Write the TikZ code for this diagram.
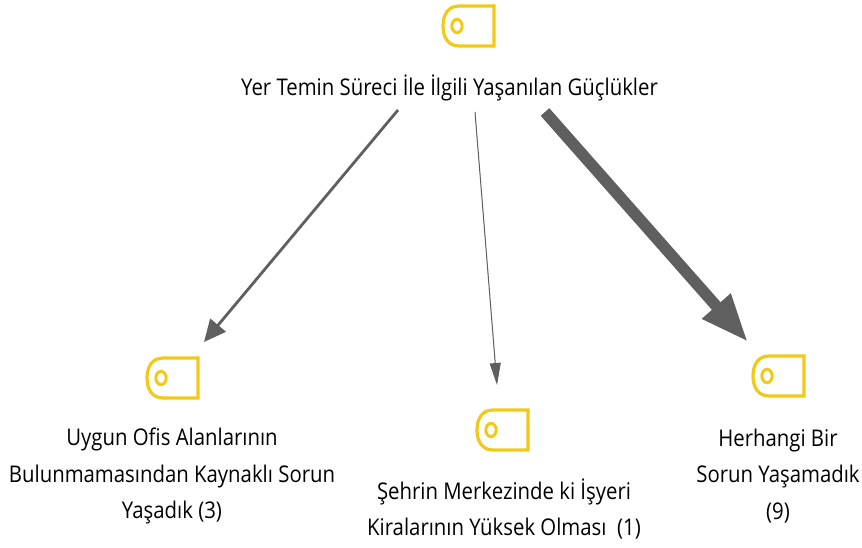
\documentclass[tikz,border=0pt]{standalone}
\usepackage{fontspec}
\setmainfont[FakeStretch=0.885]{Open Sans}
\usetikzlibrary{arrows.meta}
\definecolor{iconyellow}{HTML}{F0C919}
\definecolor{arrowgrey}{HTML}{5F5F5F}
\tikzset{
  x=1pt,y=-1pt,
  lbl/.style={align=center,font=\fontsize{23}{36.7}\selectfont,text=black,inner sep=0pt},
  conn/.style={draw=arrowgrey,fill=arrowgrey},
  pics/docicon/.style={code={
    \draw[iconyellow,line width=3.2pt,line join=miter]
      (26,-20) -- (-9,-20) .. controls (-20,-20) and (-25,-11) .. (-25,0)
      .. controls (-25,11) and (-20,20) .. (-9,20) -- (26,20) -- cycle;
    \draw[iconyellow,line width=3pt] (-11,0) ellipse [x radius=5.2,y radius=6.6];
  }}
}
\begin{document}
\begin{tikzpicture}
\useasboundingbox (0,0) rectangle (862,548);
\pic at (468,26) {docicon};
\pic at (172,378) {docicon};
\pic at (502,430) {docicon};
\pic at (778,376) {docicon};
\node[lbl] (root) at (449.5,87.5) {Yer Temin Süreci İle İlgili Yaşanılan Güçlükler};
\node[lbl] (left) at (172,476) {Uygun Ofis Alanlarının\\Bulunmamasından Kaynaklı Sorun\\Yaşadık (3)};
\node[lbl] (mid) at (504,509) {Şehrin Merkezinde ki İşyeri\\Kiralarının Yüksek Olması~~(1)};
\node[lbl] (right) at (778,476) {Herhangi Bir\\Sorun Yaşamadık\\(9)};
\coordinate (ls) at (398,110);
\coordinate (le) at (204,342);
\coordinate (ms) at (475,112);
\coordinate (me) at (497,385);
\coordinate (rs) at (545,112);
\coordinate (re) at (748,342);
\draw[conn,line width=2.8pt,-{Triangle[length=22pt,width=20pt]}] (ls) -- (le);
\draw[conn,line width=1pt,-{Triangle[length=22pt,width=11pt]}] (ms) -- (me);
\draw[conn,line width=11.5pt,-{Triangle[length=48pt,width=35pt]}] (rs) -- (re);
\end{tikzpicture}
\end{document}
